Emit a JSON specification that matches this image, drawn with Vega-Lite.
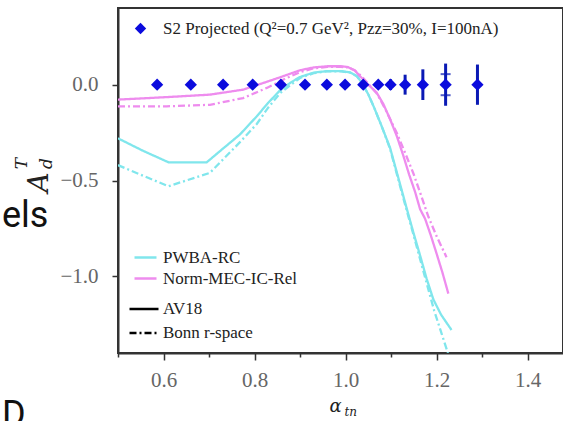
{
  "$schema": "https://vega.github.io/schema/vega-lite/v6.json",
  "width": 445,
  "height": 345,
  "autosize": {"type": "none"},
  "padding": {"left": 118, "top": 8, "right": 0, "bottom": 68},
  "background": "white",
  "title": {
    "text": "els",
    "subtitle": "D",
    "orient": "top",
    "anchor": "start",
    "frame": "group",
    "dx": -116,
    "dy": 430,
    "font": "Roboto",
    "fontSize": 36,
    "fontWeight": "normal",
    "color": "#111",
    "subtitleFont": "Roboto",
    "subtitleFontSize": 36,
    "subtitleColor": "#111",
    "subtitlePadding": 163
  },
  "datasets": {
    "curves": [
      {"model": "PWBA-RC", "pot": "AV18", "x": 0.50, "y": -0.28},
      {"model": "PWBA-RC", "pot": "AV18", "x": 0.555, "y": -0.345},
      {"model": "PWBA-RC", "pot": "AV18", "x": 0.611, "y": -0.405},
      {"model": "PWBA-RC", "pot": "AV18", "x": 0.695, "y": -0.405},
      {"model": "PWBA-RC", "pot": "AV18", "x": 0.73, "y": -0.335},
      {"model": "PWBA-RC", "pot": "AV18", "x": 0.768, "y": -0.26},
      {"model": "PWBA-RC", "pot": "AV18", "x": 0.805, "y": -0.165},
      {"model": "PWBA-RC", "pot": "AV18", "x": 0.83, "y": -0.095},
      {"model": "PWBA-RC", "pot": "AV18", "x": 0.856, "y": -0.03},
      {"model": "PWBA-RC", "pot": "AV18", "x": 0.88, "y": 0.012},
      {"model": "PWBA-RC", "pot": "AV18", "x": 0.90, "y": 0.04},
      {"model": "PWBA-RC", "pot": "AV18", "x": 0.93, "y": 0.063},
      {"model": "PWBA-RC", "pot": "AV18", "x": 0.96, "y": 0.071},
      {"model": "PWBA-RC", "pot": "AV18", "x": 0.99, "y": 0.071},
      {"model": "PWBA-RC", "pot": "AV18", "x": 1.01, "y": 0.064},
      {"model": "PWBA-RC", "pot": "AV18", "x": 1.025, "y": 0.045},
      {"model": "PWBA-RC", "pot": "AV18", "x": 1.036, "y": 0.01},
      {"model": "PWBA-RC", "pot": "AV18", "x": 1.05, "y": -0.05},
      {"model": "PWBA-RC", "pot": "AV18", "x": 1.063, "y": -0.12},
      {"model": "PWBA-RC", "pot": "AV18", "x": 1.08, "y": -0.22},
      {"model": "PWBA-RC", "pot": "AV18", "x": 1.098, "y": -0.33},
      {"model": "PWBA-RC", "pot": "AV18", "x": 1.12, "y": -0.52},
      {"model": "PWBA-RC", "pot": "AV18", "x": 1.135, "y": -0.65},
      {"model": "PWBA-RC", "pot": "AV18", "x": 1.149, "y": -0.77},
      {"model": "PWBA-RC", "pot": "AV18", "x": 1.165, "y": -0.9},
      {"model": "PWBA-RC", "pot": "AV18", "x": 1.178, "y": -1.01},
      {"model": "PWBA-RC", "pot": "AV18", "x": 1.193, "y": -1.12},
      {"model": "PWBA-RC", "pot": "AV18", "x": 1.21, "y": -1.2},
      {"model": "PWBA-RC", "pot": "AV18", "x": 1.233, "y": -1.28},

      {"model": "PWBA-RC", "pot": "Bonn r-space", "x": 0.50, "y": -0.42},
      {"model": "PWBA-RC", "pot": "Bonn r-space", "x": 0.555, "y": -0.475},
      {"model": "PWBA-RC", "pot": "Bonn r-space", "x": 0.611, "y": -0.53},
      {"model": "PWBA-RC", "pot": "Bonn r-space", "x": 0.702, "y": -0.46},
      {"model": "PWBA-RC", "pot": "Bonn r-space", "x": 0.768, "y": -0.30},
      {"model": "PWBA-RC", "pot": "Bonn r-space", "x": 0.805, "y": -0.205},
      {"model": "PWBA-RC", "pot": "Bonn r-space", "x": 0.83, "y": -0.12},
      {"model": "PWBA-RC", "pot": "Bonn r-space", "x": 0.856, "y": -0.045},
      {"model": "PWBA-RC", "pot": "Bonn r-space", "x": 0.88, "y": 0.0},
      {"model": "PWBA-RC", "pot": "Bonn r-space", "x": 0.90, "y": 0.035},
      {"model": "PWBA-RC", "pot": "Bonn r-space", "x": 0.93, "y": 0.06},
      {"model": "PWBA-RC", "pot": "Bonn r-space", "x": 0.96, "y": 0.07},
      {"model": "PWBA-RC", "pot": "Bonn r-space", "x": 0.99, "y": 0.07},
      {"model": "PWBA-RC", "pot": "Bonn r-space", "x": 1.01, "y": 0.063},
      {"model": "PWBA-RC", "pot": "Bonn r-space", "x": 1.025, "y": 0.044},
      {"model": "PWBA-RC", "pot": "Bonn r-space", "x": 1.036, "y": 0.01},
      {"model": "PWBA-RC", "pot": "Bonn r-space", "x": 1.05, "y": -0.05},
      {"model": "PWBA-RC", "pot": "Bonn r-space", "x": 1.063, "y": -0.12},
      {"model": "PWBA-RC", "pot": "Bonn r-space", "x": 1.08, "y": -0.22},
      {"model": "PWBA-RC", "pot": "Bonn r-space", "x": 1.098, "y": -0.335},
      {"model": "PWBA-RC", "pot": "Bonn r-space", "x": 1.12, "y": -0.53},
      {"model": "PWBA-RC", "pot": "Bonn r-space", "x": 1.135, "y": -0.66},
      {"model": "PWBA-RC", "pot": "Bonn r-space", "x": 1.149, "y": -0.78},
      {"model": "PWBA-RC", "pot": "Bonn r-space", "x": 1.165, "y": -0.92},
      {"model": "PWBA-RC", "pot": "Bonn r-space", "x": 1.18, "y": -1.05},
      {"model": "PWBA-RC", "pot": "Bonn r-space", "x": 1.195, "y": -1.18},
      {"model": "PWBA-RC", "pot": "Bonn r-space", "x": 1.21, "y": -1.29},
      {"model": "PWBA-RC", "pot": "Bonn r-space", "x": 1.225, "y": -1.4},

      {"model": "Norm-MEC-IC-Rel", "pot": "AV18", "x": 0.50, "y": -0.078},
      {"model": "Norm-MEC-IC-Rel", "pot": "AV18", "x": 0.607, "y": -0.065},
      {"model": "Norm-MEC-IC-Rel", "pot": "AV18", "x": 0.702, "y": -0.052},
      {"model": "Norm-MEC-IC-Rel", "pot": "AV18", "x": 0.775, "y": -0.026},
      {"model": "Norm-MEC-IC-Rel", "pot": "AV18", "x": 0.841, "y": 0.026},
      {"model": "Norm-MEC-IC-Rel", "pot": "AV18", "x": 0.90, "y": 0.075},
      {"model": "Norm-MEC-IC-Rel", "pot": "AV18", "x": 0.93, "y": 0.09},
      {"model": "Norm-MEC-IC-Rel", "pot": "AV18", "x": 0.96, "y": 0.096},
      {"model": "Norm-MEC-IC-Rel", "pot": "AV18", "x": 0.99, "y": 0.096},
      {"model": "Norm-MEC-IC-Rel", "pot": "AV18", "x": 1.005, "y": 0.092},
      {"model": "Norm-MEC-IC-Rel", "pot": "AV18", "x": 1.02, "y": 0.075},
      {"model": "Norm-MEC-IC-Rel", "pot": "AV18", "x": 1.032, "y": 0.044},
      {"model": "Norm-MEC-IC-Rel", "pot": "AV18", "x": 1.05, "y": 0.0},
      {"model": "Norm-MEC-IC-Rel", "pot": "AV18", "x": 1.068, "y": -0.04},
      {"model": "Norm-MEC-IC-Rel", "pot": "AV18", "x": 1.083, "y": -0.1},
      {"model": "Norm-MEC-IC-Rel", "pot": "AV18", "x": 1.098, "y": -0.18},
      {"model": "Norm-MEC-IC-Rel", "pot": "AV18", "x": 1.113, "y": -0.27},
      {"model": "Norm-MEC-IC-Rel", "pot": "AV18", "x": 1.127, "y": -0.37},
      {"model": "Norm-MEC-IC-Rel", "pot": "AV18", "x": 1.14, "y": -0.47},
      {"model": "Norm-MEC-IC-Rel", "pot": "AV18", "x": 1.153, "y": -0.56},
      {"model": "Norm-MEC-IC-Rel", "pot": "AV18", "x": 1.164, "y": -0.65},
      {"model": "Norm-MEC-IC-Rel", "pot": "AV18", "x": 1.175, "y": -0.70},
      {"model": "Norm-MEC-IC-Rel", "pot": "AV18", "x": 1.188, "y": -0.79},
      {"model": "Norm-MEC-IC-Rel", "pot": "AV18", "x": 1.20, "y": -0.88},
      {"model": "Norm-MEC-IC-Rel", "pot": "AV18", "x": 1.213, "y": -0.98},
      {"model": "Norm-MEC-IC-Rel", "pot": "AV18", "x": 1.226, "y": -1.09},

      {"model": "Norm-MEC-IC-Rel", "pot": "Bonn r-space", "x": 0.50, "y": -0.113},
      {"model": "Norm-MEC-IC-Rel", "pot": "Bonn r-space", "x": 0.607, "y": -0.113},
      {"model": "Norm-MEC-IC-Rel", "pot": "Bonn r-space", "x": 0.702, "y": -0.105},
      {"model": "Norm-MEC-IC-Rel", "pot": "Bonn r-space", "x": 0.775, "y": -0.07},
      {"model": "Norm-MEC-IC-Rel", "pot": "Bonn r-space", "x": 0.827, "y": -0.017},
      {"model": "Norm-MEC-IC-Rel", "pot": "Bonn r-space", "x": 0.871, "y": 0.035},
      {"model": "Norm-MEC-IC-Rel", "pot": "Bonn r-space", "x": 0.90, "y": 0.065},
      {"model": "Norm-MEC-IC-Rel", "pot": "Bonn r-space", "x": 0.93, "y": 0.085},
      {"model": "Norm-MEC-IC-Rel", "pot": "Bonn r-space", "x": 0.96, "y": 0.093},
      {"model": "Norm-MEC-IC-Rel", "pot": "Bonn r-space", "x": 0.99, "y": 0.093},
      {"model": "Norm-MEC-IC-Rel", "pot": "Bonn r-space", "x": 1.005, "y": 0.09},
      {"model": "Norm-MEC-IC-Rel", "pot": "Bonn r-space", "x": 1.02, "y": 0.075},
      {"model": "Norm-MEC-IC-Rel", "pot": "Bonn r-space", "x": 1.035, "y": 0.045},
      {"model": "Norm-MEC-IC-Rel", "pot": "Bonn r-space", "x": 1.052, "y": 0.0},
      {"model": "Norm-MEC-IC-Rel", "pot": "Bonn r-space", "x": 1.07, "y": -0.05},
      {"model": "Norm-MEC-IC-Rel", "pot": "Bonn r-space", "x": 1.09, "y": -0.14},
      {"model": "Norm-MEC-IC-Rel", "pot": "Bonn r-space", "x": 1.113, "y": -0.253},
      {"model": "Norm-MEC-IC-Rel", "pot": "Bonn r-space", "x": 1.13, "y": -0.35},
      {"model": "Norm-MEC-IC-Rel", "pot": "Bonn r-space", "x": 1.149, "y": -0.462},
      {"model": "Norm-MEC-IC-Rel", "pot": "Bonn r-space", "x": 1.165, "y": -0.57},
      {"model": "Norm-MEC-IC-Rel", "pot": "Bonn r-space", "x": 1.182, "y": -0.688},
      {"model": "Norm-MEC-IC-Rel", "pot": "Bonn r-space", "x": 1.20, "y": -0.79},
      {"model": "Norm-MEC-IC-Rel", "pot": "Bonn r-space", "x": 1.222, "y": -0.9}
    ],
    "pts": [
      {"s": "S2 Projected (Q²=0.7 GeV², Pzz=30%, I=100nA)", "x": 0.586, "y": 0, "lo": -0.008, "hi": 0.008},
      {"s": "S2 Projected (Q²=0.7 GeV², Pzz=30%, I=100nA)", "x": 0.660, "y": 0, "lo": -0.008, "hi": 0.008},
      {"s": "S2 Projected (Q²=0.7 GeV², Pzz=30%, I=100nA)", "x": 0.731, "y": 0, "lo": -0.008, "hi": 0.008},
      {"s": "S2 Projected (Q²=0.7 GeV², Pzz=30%, I=100nA)", "x": 0.796, "y": 0, "lo": -0.008, "hi": 0.008},
      {"s": "S2 Projected (Q²=0.7 GeV², Pzz=30%, I=100nA)", "x": 0.858, "y": 0, "lo": -0.008, "hi": 0.008},
      {"s": "S2 Projected (Q²=0.7 GeV², Pzz=30%, I=100nA)", "x": 0.911, "y": 0, "lo": -0.008, "hi": 0.008},
      {"s": "S2 Projected (Q²=0.7 GeV², Pzz=30%, I=100nA)", "x": 0.959, "y": 0, "lo": -0.008, "hi": 0.008},
      {"s": "S2 Projected (Q²=0.7 GeV², Pzz=30%, I=100nA)", "x": 0.999, "y": 0, "lo": -0.01, "hi": 0.01},
      {"s": "S2 Projected (Q²=0.7 GeV², Pzz=30%, I=100nA)", "x": 1.039, "y": 0, "lo": -0.012, "hi": 0.012},
      {"s": "S2 Projected (Q²=0.7 GeV², Pzz=30%, I=100nA)", "x": 1.072, "y": 0, "lo": -0.018, "hi": 0.018},
      {"s": "S2 Projected (Q²=0.7 GeV², Pzz=30%, I=100nA)", "x": 1.099, "y": 0, "lo": -0.028, "hi": 0.028},
      {"s": "S2 Projected (Q²=0.7 GeV², Pzz=30%, I=100nA)", "x": 1.131, "y": 0, "lo": -0.052, "hi": 0.052},
      {"s": "S2 Projected (Q²=0.7 GeV², Pzz=30%, I=100nA)", "x": 1.170, "y": 0, "lo": -0.08, "hi": 0.08},
      {"s": "S2 Projected (Q²=0.7 GeV², Pzz=30%, I=100nA)", "x": 1.220, "y": 0, "lo": -0.11, "hi": 0.11},
      {"s": "S2 Projected (Q²=0.7 GeV², Pzz=30%, I=100nA)", "x": 1.290, "y": 0, "lo": -0.105, "hi": 0.105}
    ],
    "caps": [
      {"x": 1.220, "y": 0.055},
      {"x": 1.220, "y": -0.055}
    ]
  },
  "layer": [
    {
      "mark": {"type": "rule", "color": "#000", "strokeWidth": 2},
      "encoding": {
        "y": {"datum": 0, "type": "quantitative", "scale": {"domain": [-1.4, 0.4], "nice": false, "zero": false}, "axis": null}
      }
    },
    {
      "data": {"name": "curves"},
      "mark": {"type": "line", "strokeWidth": 2.3, "clip": true},
      "encoding": {
        "x": {
          "field": "x", "type": "quantitative",
          "scale": {"domain": [0.5, 1.478], "nice": false, "zero": false},
          "axis": {
            "orient": "bottom",
            "values": [0.6, 0.8, 1.0, 1.2, 1.4],
            "format": ".1f",
            "tickSize": 7,
            "labelPadding": 9,
            "title": "α",
            "titleFont": "DejaVu Serif",
            "titleFontStyle": "italic",
            "titleFontSize": 18,
            "titleAlign": "center",
            "titleBaseline": "alphabetic",
            "titleX": 217,
            "titleY": 58
          }
        },
        "y": {
          "field": "y", "type": "quantitative",
          "scale": {"domain": [-1.4, 0.4], "nice": false, "zero": false},
          "axis": {
            "orient": "left",
            "values": [0.0, -0.5, -1.0],
            "format": ".1f",
            "tickSize": 6,
            "labelPadding": 14,
            "title": "A",
            "titleFont": "DejaVu Serif",
            "titleFontStyle": "italic",
            "titleFontSize": 28,
            "titleAngle": -90,
            "titleAlign": "center",
            "titleBaseline": "middle",
            "titleX": -79,
            "titleY": 174
          }
        },
        "color": {
          "field": "model", "type": "nominal",
          "scale": {"domain": ["PWBA-RC", "Norm-MEC-IC-Rel"], "range": ["#80e6ec", "#ee8cee"]},
          "legend": {
            "orient": "none", "legendX": 15, "legendY": 237,
            "title": null, "symbolType": "stroke", "symbolSize": 484,
            "symbolStrokeWidth": 2.5, "labelOffset": 5, "rowPadding": -9
          }
        },
        "strokeDash": {
          "field": "pot", "type": "nominal",
          "scale": {"domain": ["AV18", "Bonn r-space"], "range": [[1, 0], [7, 3, 2, 3]]},
          "legend": {
            "orient": "none", "legendX": 10, "legendY": 285,
            "title": null, "symbolType": "stroke", "symbolSize": 841,
            "symbolStrokeColor": "#000", "symbolStrokeWidth": 2.5,
            "labelOffset": 3, "rowPadding": -20
          }
        }
      }
    },
    {
      "data": {"name": "pts"},
      "mark": {"type": "rule", "color": "#0a1ab4", "strokeWidth": 3},
      "encoding": {
        "x": {
          "field": "x", "type": "quantitative",
          "axis": {
            "orient": "bottom",
            "values": [0.5, 0.7, 0.9, 1.1, 1.3],
            "tickSize": 4,
            "labels": false,
            "domain": false,
            "title": "tn",
            "titleFont": "DejaVu Serif",
            "titleFontStyle": "italic",
            "titleFontSize": 12,
            "titleAlign": "left",
            "titleBaseline": "alphabetic",
            "titleX": 226,
            "titleY": 62
          }
        },
        "y": {
          "field": "lo", "type": "quantitative",
          "axis": {
            "orient": "left",
            "labels": false,
            "ticks": false,
            "domain": false,
            "title": ["T", "d"],
            "titleFont": "DejaVu Serif",
            "titleFontStyle": "italic",
            "titleFontSize": 17,
            "titleLineHeight": 25,
            "titleAngle": -90,
            "titleAlign": "center",
            "titleBaseline": "middle",
            "titleX": -97,
            "titleY": 155
          }
        },
        "y2": {"field": "hi"}
      }
    },
    {
      "data": {"name": "caps"},
      "mark": {"type": "tick", "orient": "horizontal", "color": "#0a1ab4", "size": 10, "thickness": 2},
      "encoding": {
        "x": {"field": "x", "type": "quantitative", "axis": null},
        "y": {"field": "y", "type": "quantitative", "axis": null}
      }
    },
    {
      "data": {"name": "pts"},
      "mark": {"type": "point", "filled": true, "size": 150, "color": "#0b0bdd", "opacity": 1},
      "encoding": {
        "x": {"field": "x", "type": "quantitative", "axis": null},
        "y": {"field": "y", "type": "quantitative", "axis": null},
        "shape": {
          "field": "s", "type": "nominal",
          "scale": {"range": ["diamond"]},
          "legend": {
            "orient": "none", "legendX": 14, "legendY": 12,
            "title": null, "symbolSize": 130,
            "symbolFillColor": "#0b0bdd", "symbolStrokeColor": "#0b0bdd",
            "labelOffset": 14
          }
        }
      }
    }
  ],
  "resolve": {"axis": {"x": "independent", "y": "independent"}},
  "config": {
    "view": {"stroke": "#333", "strokeWidth": 2},
    "axis": {
      "grid": false,
      "domainColor": "#333",
      "domainWidth": 2,
      "tickColor": "#333",
      "tickWidth": 1.5,
      "labelFont": "Liberation Serif",
      "labelFontSize": 21,
      "labelColor": "#666",
      "titleFontWeight": "normal",
      "titleColor": "#222"
    },
    "legend": {
      "labelFont": "Liberation Serif",
      "labelFontSize": 17,
      "labelColor": "#222",
      "padding": 0,
      "labelLimit": 500
    }
  }
}
